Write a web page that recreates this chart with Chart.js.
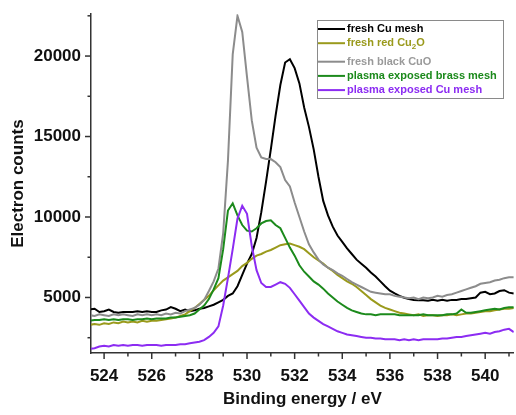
<!DOCTYPE html>
<html>
<head>
<meta charset="utf-8">
<script src="https://cdn.jsdelivr.net/npm/chart.js@4"></script>
<style>
html,body{margin:0;padding:0;background:#fff;}
#wrap{width:516px;height:415px;}
</style>
</head>
<body>
<div id="wrap"><canvas id="c" width="516" height="415"></canvas></div>
<script>
const energy = [523.4,523.6,523.8,524.0,524.2,524.4,524.6,524.8,525.0,525.2,525.4,525.6,525.8,526.0,526.2,526.4,526.6,526.8,527.0,527.2,527.4,527.6,527.8,528.0,528.2,528.4,528.6,528.8,529.0,529.2,529.4,529.6,529.8,530.0,530.2,530.4,530.6,530.8,531.0,531.2,531.4,531.6,531.8,532.0,532.2,532.4,532.6,532.8,533.0,533.2,533.4,533.6,533.8,534.0,534.2,534.4,534.6,534.8,535.0,535.2,535.4,535.6,535.8,536.0,536.2,536.4,536.6,536.8,537.0,537.2,537.4,537.6,537.8,538.0,538.2,538.4,538.6,538.8,539.0,539.2,539.4,539.6,539.8,540.0,540.2,540.4,540.6,540.8,541.0,541.2];

const freshCuMesh = [4250,4300,4100,4150,4250,4100,4050,4100,4100,4100,4150,4100,4150,4100,4100,4200,4250,4400,4300,4150,4250,4150,4200,4300,4350,4450,4550,4700,4850,5100,5250,5700,6400,7100,7700,8700,10300,12200,14200,16300,18200,19600,19800,19250,18300,16800,15600,14200,12500,11000,10100,9400,8850,8450,8050,7700,7350,7100,6850,6550,6300,6000,5700,5420,5250,5100,4980,4900,4850,4830,4820,4800,4850,4800,4850,4800,4850,4850,4900,4900,4950,5000,5300,5350,5200,5250,5400,5450,5300,5250];

const freshRedCu2O = [3300,3350,3300,3400,3350,3450,3400,3500,3450,3500,3450,3550,3500,3550,3550,3600,3650,3700,3750,3850,3950,4150,4350,4600,4850,5100,5450,5750,6050,6250,6450,6650,6950,7150,7400,7600,7700,7850,7950,8100,8250,8300,8350,8250,8150,8000,7750,7500,7300,7100,6850,6650,6400,6200,6000,5850,5650,5400,5150,4900,4700,4500,4350,4250,4150,4050,4000,3950,3900,3950,3850,3900,3900,3850,3900,3900,3950,3900,3950,4000,4000,4050,4100,4150,4150,4200,4250,4300,4300,4350];

const freshBlackCuO = [3900,3850,3950,3900,3850,3950,3900,3950,3900,3850,3950,3900,3950,3900,3950,3900,4000,3950,4050,4000,4150,4250,4350,4550,4850,5400,6000,6800,9000,13500,20100,22500,21500,18700,16000,14300,13700,13600,13600,13400,13100,12300,11900,10900,10000,9100,8300,7800,7350,7050,6850,6700,6500,6350,6150,5950,5800,5650,5500,5350,5300,5250,5200,5200,5100,5050,5000,4950,5000,4900,5000,4950,5000,5100,5050,5150,5200,5300,5400,5500,5600,5700,5850,5900,5950,6050,6100,6200,6250,6250];

const plasmaBrassMesh = [3550,3600,3600,3650,3600,3650,3600,3650,3650,3600,3650,3650,3700,3650,3700,3700,3700,3750,3750,3800,3850,3900,4000,4250,4500,4900,5500,6200,8000,10400,10850,10100,9500,9150,9100,9300,9600,9750,9800,9500,9300,8700,8100,7600,7000,6600,6300,6000,5800,5550,5250,5000,4750,4550,4350,4200,4100,4000,3950,3950,3900,3950,3950,3950,3950,3900,3900,3900,3900,3900,3950,3900,3900,3900,3900,3950,3950,4000,4250,4050,4050,4100,4150,4200,4250,4300,4250,4350,4400,4400];

const plasmaCuMesh = [1800,1850,1950,2000,1950,2050,2000,2050,2000,2050,2050,2000,2050,2050,2050,2000,2050,2050,2050,2100,2100,2150,2200,2250,2350,2550,2800,3200,4500,6200,8000,9900,10700,10200,8200,6700,5900,5650,5650,5800,5950,5850,5600,5200,4800,4400,4000,3750,3550,3350,3200,3050,2900,2800,2700,2650,2600,2550,2500,2500,2450,2450,2400,2400,2400,2350,2400,2350,2400,2350,2400,2400,2400,2400,2450,2450,2500,2550,2550,2600,2650,2700,2750,2800,2750,2850,2900,3000,3050,2850];

const seriesLabels = ['fresh Cu mesh','fresh red Cu\u2082O','fresh black CuO','plasma exposed brass mesh','plasma exposed Cu mesh'];
const seriesColors = ['#000000','#9a9a1c','#8c8c8c','#1c8a1c','#8c2cf2'];
const legendTextColors = ['#000000','#9a9a1c','#9a9a9a','#1c8a1c','#8c2cf2'];
const seriesValues = [freshCuMesh, freshRedCu2O, freshBlackCuO, plasmaBrassMesh, plasmaCuMesh];

// tick positions (majors are labelled, minors are not)
const xTickValues = [524,525,526,527,528,529,530,531,532,533,534,535,536,537,538,539,540,541];
const xTickLabels = ['524','','526','','528','','530','','532','','534','','536','','538','','540',''];
const yTickValues = [2500,5000,7500,10000,12500,15000,17500,20000,22500];
const yTickLabels = ['','5000','','10000','','15000','','20000',''];
const xAxisTitle = 'Binding energy / eV';
const yAxisTitle = 'Electron counts';

const FONT = '"Liberation Sans", Arial, sans-serif';
const AXIS_COLOR = '#333333';

const datasets = seriesValues.map((vals, i) => ({
  label: seriesLabels[i],
  data: energy.map((e, k) => ({x: e, y: vals[k]})),
  borderColor: seriesColors[i],
  backgroundColor: seriesColors[i],
  borderWidth: 2,
  pointRadius: 0,
  tension: 0,
  fill: false,
  order: seriesValues.length - i
}));

const decorPlugin = {
  id: 'decor',
  afterDraw(chart) {
    const ctx = chart.ctx;
    const xs = chart.scales.x, ys = chart.scales.y;
    const area = chart.chartArea;
    ctx.save();
    ctx.strokeStyle = AXIS_COLOR;
    ctx.lineWidth = 1.5;
    xs.ticks.forEach((t, i) => {
      const px = xs.getPixelForValue(t.value);
      const major = xTickLabels[i] !== '';
      ctx.beginPath();
      ctx.moveTo(px, area.bottom);
      ctx.lineTo(px, area.bottom + (major ? 6 : 3.5));
      ctx.stroke();
    });
    ys.ticks.forEach((t, i) => {
      const py = ys.getPixelForValue(t.value);
      const major = yTickLabels[i] !== '';
      ctx.beginPath();
      ctx.moveTo(area.left, py);
      ctx.lineTo(area.left - (major ? 6 : 3.5), py);
      ctx.stroke();
    });
    // legend
    const bx = 317, by = 20, bw = 186, bh = 78;
    ctx.fillStyle = '#ffffff';
    ctx.fillRect(bx, by, bw, bh);
    ctx.strokeStyle = '#8a8a8a';
    ctx.lineWidth = 1;
    ctx.strokeRect(bx + 0.5, by + 0.5, bw, bh);
    let y = by + 9;
    chart.data.datasets.forEach((ds, i) => {
      ctx.strokeStyle = ds.borderColor;
      ctx.lineWidth = 2;
      ctx.beginPath();
      ctx.moveTo(bx + 1, y);
      ctx.lineTo(bx + 28, y);
      ctx.stroke();
      ctx.fillStyle = legendTextColors[i];
      ctx.textBaseline = 'middle';
      ctx.textAlign = 'left';
      let tx = bx + 30;
      const hasSub = ds.label.indexOf('\u2082') >= 0;
      const parts = ds.label.split('\u2082');
      parts.forEach((p, j) => {
        ctx.font = 'bold 11px ' + FONT;
        ctx.fillText(p, tx, y);
        tx += ctx.measureText(p).width;
        if (j < parts.length - 1) {
          ctx.font = 'bold 8px ' + FONT;
          ctx.fillText('2', tx, y + 4);
          tx += ctx.measureText('2').width;
        }
      });
      y += hasSub ? 18.5 : 14.2;
    });
    ctx.restore();
  }
};

new Chart(document.getElementById('c'), {
  type: 'line',
  data: { datasets },
  options: {
    responsive: false,
    animation: false,
    layout: { padding: { left: 0, right: 0, top: 10, bottom: 0 } },
    plugins: { legend: { display: false }, tooltip: { enabled: false } },
    scales: {
      x: {
        type: 'linear',
        min: 523.45,
        max: 541.2,
        afterBuildTicks: s => { s.ticks = xTickValues.map(v => ({ value: v })); },
        ticks: {
          autoSkip: false,
          maxRotation: 0,
          padding: 7,
          color: '#111111',
          font: { family: FONT, size: 17, weight: 'bold' },
          callback: (v, i) => xTickLabels[i]
        },
        grid: { display: true, drawOnChartArea: false, drawTicks: true, tickLength: 6, tickColor: 'rgba(0,0,0,0)' },
        border: { display: true, color: AXIS_COLOR, width: 1.5 },
        title: { display: true, text: xAxisTitle, color: '#111111', font: { family: FONT, size: 17, weight: 'bold' }, padding: { top: 0, bottom: 5 } },
        afterFit: s => { s.height = 62; }
      },
      y: {
        type: 'linear',
        min: 1550,
        max: 22600,
        afterBuildTicks: s => { s.ticks = yTickValues.map(v => ({ value: v })); },
        ticks: {
          autoSkip: false,
          padding: 4,
          color: '#111111',
          font: { family: FONT, size: 17, weight: 'bold' },
          callback: (v, i) => yTickLabels[i]
        },
        grid: { display: true, drawOnChartArea: false, drawTicks: true, tickLength: 6, tickColor: 'rgba(0,0,0,0)' },
        border: { display: true, color: AXIS_COLOR, width: 1.5 },
        title: { display: true, text: yAxisTitle, color: '#111111', font: { family: FONT, size: 17, weight: 'bold' }, padding: { top: 8, bottom: 0 } },
        afterFit: s => { s.width = 91; }
      }
    }
  },
  plugins: [decorPlugin]
});
</script>
</body>
</html>
